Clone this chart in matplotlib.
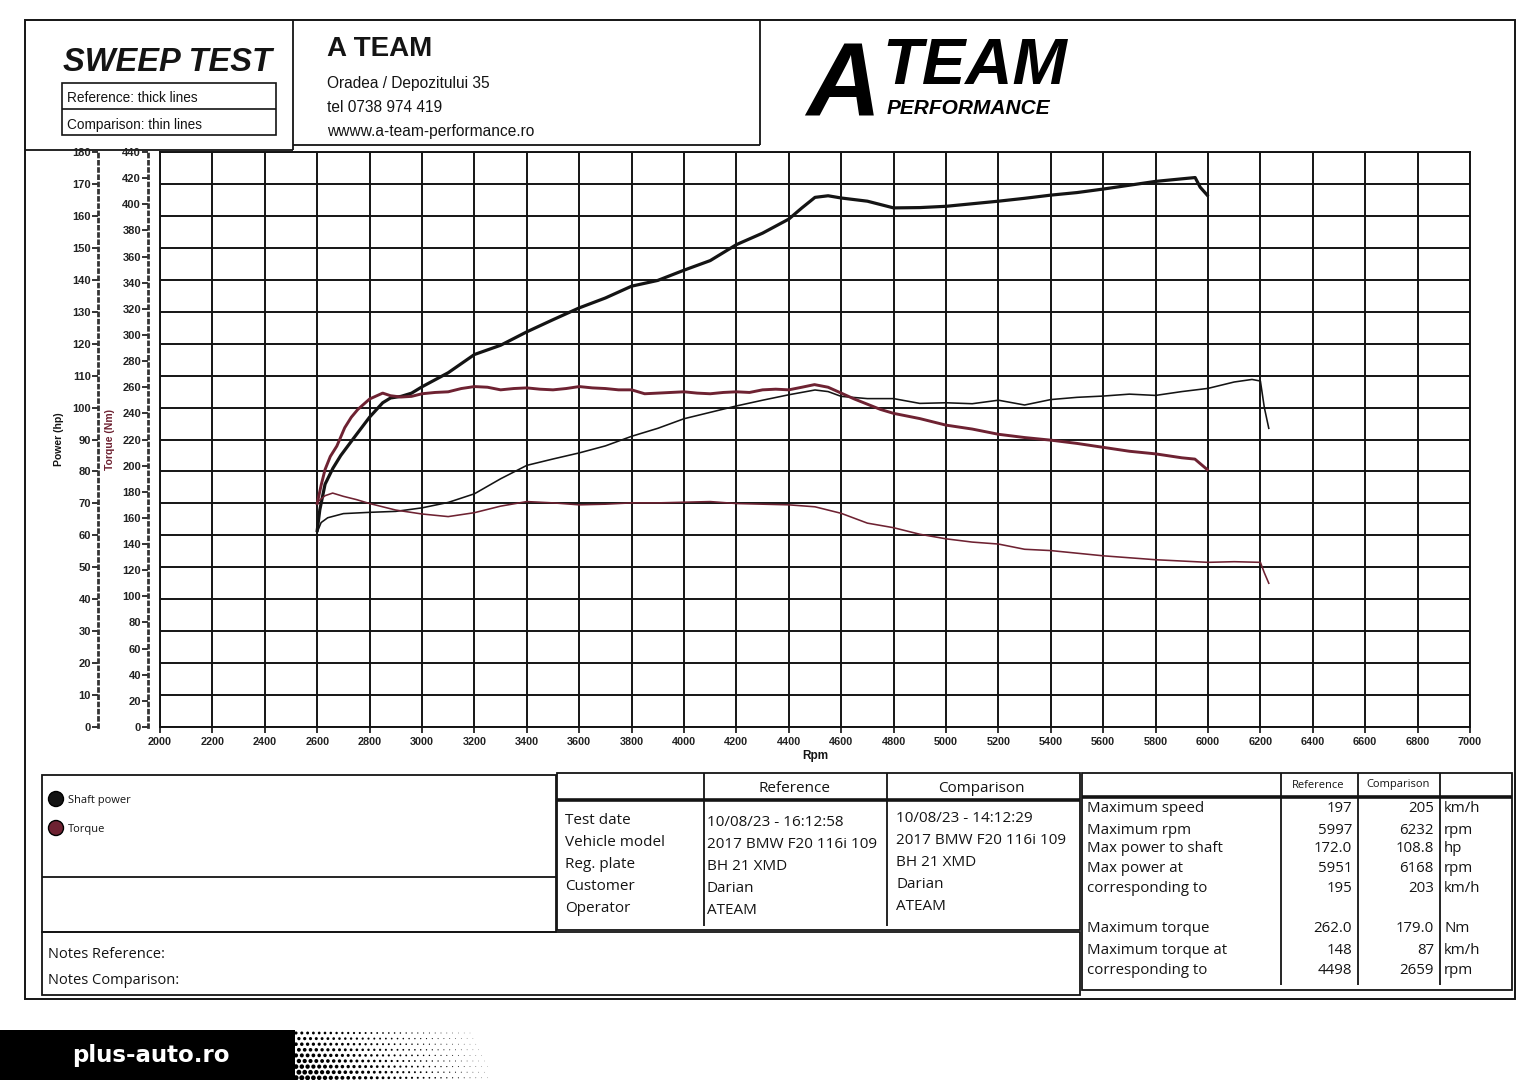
import numpy as np
import matplotlib
matplotlib.use('Agg')
import matplotlib.pyplot as plt
from matplotlib import font_manager as fm
from matplotlib.patches import Rectangle, Circle

# ---------------- data ----------------
ref_power_rpm = [2600, 2610, 2630, 2660, 2690, 2740, 2800, 2850, 2880, 2920, 2960, 3000, 3100, 3200,
                 3300, 3400, 3500, 3600, 3700, 3800, 3900, 4000, 4100, 4200, 4300, 4400, 4450, 4500,
                 4550, 4600, 4700, 4800, 4900, 5000, 5100, 5200, 5300, 5400, 5500, 5600, 5700, 5800,
                 5900, 5951, 5970, 5997]
ref_power_hp = [61.5, 68.0, 76.0, 81.0, 85.0, 90.5, 97.0, 101.5, 103.0, 103.5, 104.5, 106.5, 110.9, 116.6,
                119.5, 123.7, 127.5, 131.2, 134.3, 138.0, 139.8, 143.0, 146.0, 151.0, 154.6, 159.0, 162.5, 165.8,
                166.3, 165.6, 164.6, 162.5, 162.6, 163.0, 163.8, 164.6, 165.5, 166.5, 167.3, 168.4, 169.6, 170.8,
                171.6, 172.0, 169.0, 166.5]

ref_torque_rpm = [2600, 2615, 2630, 2650, 2675, 2705, 2730, 2755, 2800, 2850, 2880, 2920, 2960, 3000,
                  3050, 3100, 3150, 3200, 3250, 3300, 3350, 3400, 3450, 3500, 3550, 3600, 3650, 3700,
                  3750, 3800, 3850, 3900, 3950, 4000, 4050, 4100, 4150, 4200, 4250, 4300, 4350, 4400,
                  4450, 4498, 4550, 4600, 4650, 4700, 4750, 4800, 4900, 5000, 5100, 5200, 5300, 5400,
                  5500, 5600, 5700, 5800, 5900, 5950, 5997]
ref_torque_nm = [171, 185, 197, 207, 215, 229, 237, 243, 251, 255.5, 253.5, 252.5, 253, 255,
                 256, 256.5, 259, 260.5, 260, 258, 259, 259.5, 258.5, 258, 259, 260.5, 259.5, 259,
                 258, 258, 255, 255.5, 256, 256.5, 255.5, 255, 256, 256.5, 256, 258, 258.5, 258,
                 260, 262, 260, 255.5, 251, 247, 243, 240, 236, 231, 228, 224, 221.5, 219.5,
                 217, 214, 211, 209, 206, 205, 197]

cmp_power_rpm = [2600, 2615, 2640, 2700, 2800, 2900, 3000, 3100, 3200, 3300, 3400, 3500, 3600, 3700,
                 3800, 3900, 4000, 4100, 4200, 4300, 4400, 4500, 4550, 4600, 4700, 4800, 4900, 5000,
                 5100, 5200, 5300, 5400, 5500, 5600, 5700, 5800, 5900, 6000, 6100, 6168, 6200, 6215, 6232]
cmp_power_hp = [61.0, 64.0, 65.5, 66.8, 67.2, 67.5, 68.6, 70.3, 73.0, 77.7, 81.9, 83.9, 85.8, 88.0,
                91.0, 93.5, 96.5, 98.5, 100.5, 102.3, 104.0, 105.5, 105.0, 103.5, 102.8, 102.8, 101.3, 101.5,
                101.2, 102.3, 100.8, 102.5, 103.2, 103.6, 104.2, 103.8, 105.0, 106.0, 108.0, 108.8, 108.3, 100.0, 93.5]

cmp_torque_rpm = [2600, 2630, 2659, 2700, 2750, 2800, 2900, 3000, 3100, 3200, 3300, 3400, 3500, 3600,
                  3700, 3800, 3900, 4000, 4100, 4200, 4300, 4400, 4500, 4600, 4700, 4800, 4900, 5000,
                  5100, 5200, 5300, 5400, 5500, 5600, 5700, 5800, 5900, 6000, 6100, 6200, 6215, 6232]
cmp_torque_nm = [172, 177, 179, 176.5, 174, 171, 166, 163, 161, 164, 169, 172.5, 171.5, 170,
                 170.5, 171.5, 171.5, 172, 172.5, 171, 170.5, 170, 168.5, 163.5, 156, 152.5, 147.5, 144,
                 141.5, 140, 136, 135, 133, 131, 129.5, 128, 127, 126, 126.5, 126, 118, 110]

rpm_ticks = list(range(2000, 7001, 200))
power_ticks = list(range(0, 181, 10))
torque_ticks = list(range(0, 441, 20))

info_labels = ['Test date', 'Vehicle model', 'Reg. plate', 'Customer', 'Operator']
info_reference = ['10/08/23 - 16:12:58', '2017 BMW F20 116i 109', 'BH 21 XMD', 'Darian', 'ATEAM']
info_comparison = ['10/08/23 - 14:12:29', '2017 BMW F20 116i 109', 'BH 21 XMD', 'Darian', 'ATEAM']

stat_labels = ['Maximum speed', 'Maximum rpm', 'Max power to shaft', 'Max power at', 'corresponding to',
               'Maximum torque', 'Maximum torque at', 'corresponding to']
stat_reference = ['197', '5997', '172.0', '5951', '195', '262.0', '148', '4498']
stat_comparison = ['205', '6232', '108.8', '6168', '203', '179.0', '87', '2659']
stat_units = ['km/h', 'rpm', 'hp', 'rpm', 'km/h', 'Nm', 'km/h', 'rpm']

legend_items = ['Shaft power', 'Torque']

# ---------------- style ----------------
names = {f.name for f in fm.fontManager.ttflist}
NARROW = 'Liberation Sans Narrow' in names
SANS = 'Liberation Sans'
COND = 'Liberation Sans Narrow' if NARROW else 'Liberation Sans'
TABLE = 'Open Sans' if 'Open Sans' in names else 'DejaVu Sans'
plt.rcParams['font.family'] = [SANS, 'DejaVu Sans']

BLACK = '#141414'
MAROON = '#6e2232'

W, H = 1531, 1080
fig = plt.figure(figsize=(W / 100, H / 100), dpi=100)
fig.patch.set_facecolor('white')

bg = fig.add_axes([0, 0, 1, 1], zorder=0)
bg.set_xlim(0, W)
bg.set_ylim(H, 0)
bg.axis('off')


def line(x0, y0, x1, y1, lw=1.3, color=BLACK):
    bg.plot([x0, x1], [y0, y1], color=color, lw=lw, solid_capstyle='butt')


def rect(x0, y0, x1, y1, lw=1.3):
    bg.add_patch(Rectangle((x0, y0), x1 - x0, y1 - y0, fill=False, ec=BLACK, lw=lw))


# page frame
rect(25, 20, 1515, 999, lw=1.4)

# header
line(293, 20, 293, 150)
line(25, 150, 293, 150)
line(293, 145, 760, 145)
line(760, 20, 760, 145)
rect(62, 83, 276, 135, lw=1.2)
line(62, 109, 276, 109, lw=1.2)

bg.text(63, 71, 'SWEEP TEST', fontsize=28 if NARROW else 23.5, fontweight='bold', fontstyle='italic',
        family=[COND, 'DejaVu Sans'], va='baseline', color=BLACK)
bg.text(67, 102, 'Reference: thick lines', fontsize=11 if NARROW else 9.8, family=[COND, 'DejaVu Sans'],
        va='baseline', color=BLACK)
bg.text(67, 129, 'Comparison: thin lines', fontsize=11 if NARROW else 9.8, family=[COND, 'DejaVu Sans'],
        va='baseline', color=BLACK)

bg.text(327, 56, 'A TEAM', fontsize=20, fontweight='bold', va='baseline', color=BLACK)
bg.text(327, 88, 'Oradea / Depozitului 35', fontsize=11.2, va='baseline', color=BLACK)
bg.text(327, 112, 'tel 0738 974 419', fontsize=11.2, va='baseline', color=BLACK)
bg.text(327, 136, 'wwww.a-team-performance.ro', fontsize=11.2, va='baseline', color=BLACK)

# logo
bg.text(806, 115, 'A', fontsize=86 if NARROW else 74, fontweight='bold', fontstyle='italic',
        family=[COND, 'DejaVu Sans'], va='baseline', color='black')
bg.text(882, 84, 'TEAM', fontsize=56 if NARROW else 47, fontweight='bold', fontstyle='italic',
        family=[COND, 'DejaVu Sans'], va='baseline', color='black')
bg.text(887, 114, 'PERFORMANCE', fontsize=18 if NARROW else 15, fontweight='bold', fontstyle='italic',
        family=[COND, 'DejaVu Sans'], va='baseline', color='black')

# ---------------- chart ----------------
L, R, T, B = 160, 1470, 152, 727
ax = fig.add_axes([L / W, 1 - B / H, (R - L) / W, (B - T) / H], zorder=3)
ax.set_xlim(rpm_ticks[0], rpm_ticks[-1])
ax.set_ylim(power_ticks[0], power_ticks[-1])
ax.set_xticks(rpm_ticks)
ax.set_yticks(power_ticks)
ax.grid(True, color=BLACK, lw=1.4)
ax.set_axisbelow(True)
for s in ['top', 'right', 'bottom']:
    ax.spines[s].set_linewidth(1.4)
    ax.spines[s].set_color(BLACK)
ax.axvline(rpm_ticks[0], color=BLACK, lw=1.4, clip_on=False, zorder=0.5)
ax.spines['left'].set_position(('axes', (98 - L) / (R - L)))
ax.spines['left'].set_linestyle((0, (1.0, 1.6)))
ax.spines['left'].set_linewidth(2.0)
ax.spines['left'].set_color('#333333')
ax.tick_params(axis='y', length=4, width=1.3, pad=1, labelsize=8, colors='#222222')
ax.tick_params(axis='x', length=4, width=1.3, pad=3, labelsize=7.8, colors='#222222')
for lbl in ax.get_xticklabels() + ax.get_yticklabels():
    lbl.set_fontweight('bold')
ax.set_xlabel('Rpm', fontsize=8.5, fontweight='bold', labelpad=2, color=BLACK)
ax.set_ylabel('Power (hp)', fontsize=7.5, fontweight='bold', labelpad=6, color=BLACK)

axt = ax.twinx()
axt.set_zorder(4)
axt.set_ylim(torque_ticks[0], torque_ticks[-1])
axt.set_yticks(torque_ticks)
axt.yaxis.set_ticks_position('left')
axt.yaxis.set_label_position('left')
for s in ['top', 'right', 'bottom']:
    axt.spines[s].set_visible(False)
axt.spines['left'].set_visible(True)
axt.spines['left'].set_position(('axes', (148 - L) / (R - L)))
axt.spines['left'].set_linestyle((0, (1.0, 1.6)))
axt.spines['left'].set_linewidth(2.0)
axt.spines['left'].set_color('#333333')
axt.tick_params(axis='y', length=4, width=1.3, pad=1, labelsize=8, colors='#222222')
for lbl in axt.get_yticklabels():
    lbl.set_fontweight('bold')
axt.set_ylabel('Torque (Nm)', fontsize=7.5, fontweight='bold', labelpad=5, color=MAROON)

# curves
ax.plot(cmp_power_rpm, cmp_power_hp, color=BLACK, lw=1.15, zorder=3)
ax.plot(ref_power_rpm, ref_power_hp, color=BLACK, lw=2.3, zorder=4)
axt.plot(cmp_torque_rpm, cmp_torque_nm, color=MAROON, lw=1.15, zorder=3)
axt.plot(ref_torque_rpm, ref_torque_nm, color=MAROON, lw=2.1, zorder=4)

# ---------------- bottom panels ----------------
rect(42, 775, 556, 932, lw=1.3)
line(42, 877, 556, 877, lw=1.3)
rect(42, 932, 1080, 995, lw=1.3)

legend_colors = [BLACK, MAROON]
for i, (name, col) in enumerate(zip(legend_items, legend_colors)):
    y = 799 + i * 29
    bg.add_patch(Circle((56, y), 7.5, fc=col, ec='black', lw=1.0))
    bg.text(68, y + 4, name, fontsize=8, family=[TABLE, 'DejaVu Sans'], va='baseline', color=BLACK)

bg.text(48, 958, 'Notes Reference:', fontsize=10.5, family=[TABLE, 'DejaVu Sans'], va='baseline', color=BLACK)
bg.text(48, 984, 'Notes Comparison:', fontsize=10.5, family=[TABLE, 'DejaVu Sans'], va='baseline', color=BLACK)

# middle table
rect(557, 773, 1080, 930, lw=1.3)
line(557, 800, 1080, 800, lw=2.6)
line(704, 773, 704, 926, lw=1.3)
line(887, 773, 887, 926, lw=1.3)
bg.text(795, 788, 'Reference', fontsize=11, family=[TABLE, 'DejaVu Sans'], ha='center', va='center', color=BLACK)
bg.text(981, 788, 'Comparison', fontsize=11, family=[TABLE, 'DejaVu Sans'], ha='center', va='center', color=BLACK)
for i, (lab, rv, cv) in enumerate(zip(info_labels, info_reference, info_comparison)):
    y = 820 + i * 22.2
    bg.text(565, y, lab, fontsize=11, family=[TABLE, 'DejaVu Sans'], va='center', color=BLACK)
    bg.text(707, y + 2, rv, fontsize=11, family=[TABLE, 'DejaVu Sans'], va='center', color=BLACK)
    bg.text(896, y - 2, cv, fontsize=11, family=[TABLE, 'DejaVu Sans'], va='center', color=BLACK)

# right table
rect(1082, 773, 1512, 990, lw=1.3)
line(1082, 797, 1512, 797, lw=2.6)
for xv in (1281, 1358, 1440):
    line(xv, 773, xv, 985, lw=1.3)
bg.text(1318, 785, 'Reference', fontsize=8, family=[TABLE, 'DejaVu Sans'], ha='center', va='center', color=BLACK)
bg.text(1398, 785, 'Comparison', fontsize=8, family=[TABLE, 'DejaVu Sans'], ha='center', va='center', color=BLACK)
stat_y = [809, 830, 848, 868, 888, 929, 950, 970]
for lab, rv, cv, un, y in zip(stat_labels, stat_reference, stat_comparison, stat_units, stat_y):
    bg.text(1087, y, lab, fontsize=10.8, family=[TABLE, 'DejaVu Sans'], va='center', color=BLACK)
    bg.text(1352, y, rv, fontsize=10.8, family=[TABLE, 'DejaVu Sans'], ha='right', va='center', color=BLACK)
    bg.text(1434, y, cv, fontsize=10.8, family=[TABLE, 'DejaVu Sans'], ha='right', va='center', color=BLACK)
    bg.text(1444, y, un, fontsize=10.8, family=[TABLE, 'DejaVu Sans'], va='center', color=BLACK)

# ---------------- watermark banner ----------------
bg.add_patch(Rectangle((0, 1030), 295, 50, fc='black', ec='none'))
dx, dy = [], []
sz = []
for r in range(9):
    yy = 1033 + r * 5.6
    for c in range(40):
        xx = 296 + c * 5.8 + (r % 2) * 2.9
        t = (xx - 296) / 230.0
        d = 4.6 * (1 - t) ** 1.3 * (0.55 + 0.45 * (r / 8.0)) + 0.6 * (1 - t)
        if d > 0.5:
            dx.append(xx)
            dy.append(yy)
            sz.append((d * 0.72) ** 2)
bg.scatter(dx, dy, s=sz, c='black', linewidths=0)
bg.text(72, 1062, 'plus-auto.ro', fontsize=16.5, fontweight='bold', family=['DejaVu Sans'],
        color='white', va='baseline')

fig.savefig('out.png', dpi=100, facecolor='white')
